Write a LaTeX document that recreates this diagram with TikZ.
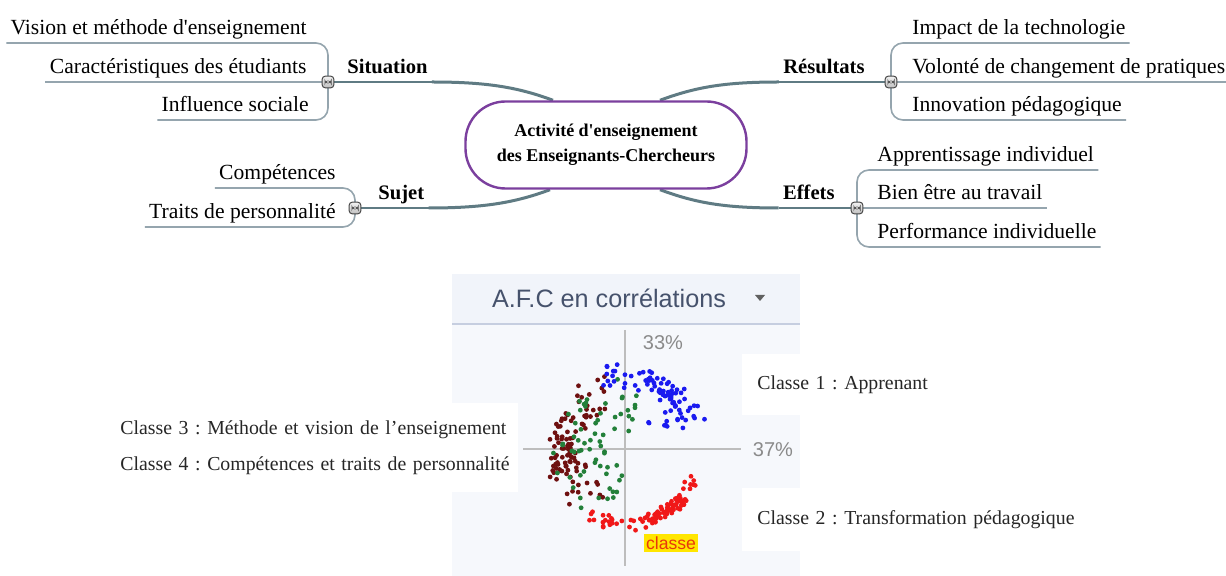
\documentclass[tikz,border=0pt]{standalone}
\usepackage{fontspec}
\setmainfont{Liberation Serif}
\newfontfamily\sansf{Liberation Sans}
\usetikzlibrary{calc}
\pgfdeclarelayer{bg}
\pgfdeclarelayer{back}
\pgfsetlayers{back,bg,main}
\definecolor{branchc}{HTML}{5F7B83}
\definecolor{kidc}{HTML}{95A5AE}
\definecolor{centc}{HTML}{7B3F9E}
\definecolor{panelbg}{HTML}{F6F8FC}
\definecolor{headbg}{HTML}{F1F4FA}
\definecolor{sepc}{HTML}{C6CEE0}
\definecolor{hdc}{HTML}{46526C}
\definecolor{axisc}{HTML}{BDBDBD}
\definecolor{pctc}{HTML}{8A8A8A}
\definecolor{dblue}{HTML}{1A1AF0}
\definecolor{dred}{HTML}{F01818}
\definecolor{dgreen}{HTML}{23803A}
\definecolor{dmaroon}{HTML}{6E1010}
\definecolor{hiy}{HTML}{FFE600}
\definecolor{clsred}{HTML}{E8380C}
\frenchspacing
\tikzset{
  kid/.style={font=\fontsize{10.8pt}{13pt}\selectfont, inner xsep=2pt, inner ysep=0pt, text height=7.5pt, text depth=4pt},
  topic/.style={kid, font=\fontsize{10.3pt}{13pt}\selectfont\bfseries},
  kidline/.style={draw=kidc, line width=0.8pt, rounded corners=6pt},
  branchthick/.style={draw=branchc, line width=1.5pt},
  branchthin/.style={draw=branchc, line width=0.9pt},
  btn/.style={draw=gray!55!black, line width=0.5pt, rounded corners=1.5pt, minimum size=5.8pt, inner sep=0pt,
    top color=gray!10, bottom color=gray!50,
    path picture={\filldraw[fill=gray!8, draw=gray!55!black, line width=0.3pt]
      ([xshift=-1.6pt,yshift=-0.55pt]path picture bounding box.center) rectangle
      ([xshift=1.6pt,yshift=0.55pt]path picture bounding box.center);}},
  cent/.style={draw=centc, line width=1.2pt, fill=white, rounded corners=20pt, minimum width=140.5pt,
    minimum height=43.5pt, align=center, font=\fontsize{9pt}{12.5pt}\selectfont\bfseries},
  pct/.style={font=\sansf\fontsize{10pt}{12pt}\selectfont, text=pctc, inner sep=1pt},
  clsbox/.style={fill=white, anchor=north west, align=left, inner ysep=0pt,
    font=\fontsize{9.9pt}{18pt}\selectfont\frenchspacing, text=black!85},
  dot/.style={radius=1.2pt}
}
\begin{document}
\begin{tikzpicture}[x=0.5pt,y=-0.5pt]
\useasboundingbox (0,0) rectangle (1226,576);
\begin{pgfonlayer}{back}
\fill[white] (0,0) rectangle (1226,576);
\end{pgfonlayer}

% ---------- mind map ----------
\node[cent] (cen) at (606,145) {Activité d\textquotesingle enseignement\\des Enseignants-Chercheurs};

% topics
\node[topic, anchor=south west] (sit) at (343,82) {Situation};
\node[topic, anchor=south east] (res) at (869,82) {Résultats};
\node[topic, anchor=south west] (suj) at (374,208) {Sujet};
\node[topic, anchor=south east] (eff) at (839,208) {Effets};

% buttons
\node[btn] (sitb) at (328,82) {};
\node[btn] (resb) at (891,82) {};
\node[btn] (sujb) at (355,208) {};
\node[btn] (effb) at (857,208) {};

% children
\node[kid, anchor=south east] (s1) at (311,43) {Vision et méthode d\textquotesingle enseignement};
\node[kid, anchor=south east] (s2) at (311,82) {Caractéristiques des étudiants};
\node[kid, anchor=south east] (s3) at (313,120) {Influence sociale};

\node[kid, anchor=south west] (r1) at (908,43) {Impact de la technologie};
\node[kid, anchor=south west] (r2) at (908,82) {Volonté de changement de pratiques};
\node[kid, anchor=south west] (r3) at (908,120) {Innovation pédagogique};

\node[kid, anchor=south east] (u1) at (340,188) {Compétences};
\node[kid, anchor=south east] (u2) at (340,227) {Traits de personnalité};

\node[kid, anchor=south west] (e1) at (873,170) {Apprentissage individuel};
\node[kid, anchor=south west] (e2) at (873,208) {Bien être au travail};
\node[kid, anchor=south west] (e3) at (873,247) {Performance individuelle};

\begin{pgfonlayer}{bg}
  % branches
  \draw[branchthick] ($(cen.north)+(-53,0)$) .. controls +(-35,-13) and +(55,0) .. (sit.south east);
  \draw[branchthin] (sit.south east) -- (sitb.center);
  \draw[branchthick] ($(cen.north)+(54,0)$) .. controls +(35,-13) and +(-55,0) .. (res.south west);
  \draw[branchthin] (res.south west) -- (resb.center);
  \draw[branchthick] ($(cen.south)+(-56,0)$) .. controls +(-35,13) and +(55,0) .. (suj.south east);
  \draw[branchthin] (suj.south east) -- (sujb.center);
  \draw[branchthick] ($(cen.south)+(54,0)$) .. controls +(35,13) and +(-55,0) .. (eff.south west);
  \draw[branchthin] (eff.south west) -- (effb.center);
  % child lines
  \draw[kidline] (sitb.center) |- (s1.south west);
  \draw[kidline] (sitb.center) -- (s2.south west);
  \draw[kidline] (sitb.center) |- (s3.south west);
  \draw[kidline] (resb.center) |- (r1.south east);
  \draw[kidline] (resb.center) -- (r2.south east);
  \draw[kidline] (resb.center) |- (r3.south east);
  \draw[kidline] (sujb.center) |- (u1.south west);
  \draw[kidline] (sujb.center) |- (u2.south west);
  \draw[kidline] (effb.center) |- (e1.south east);
  \draw[kidline] (effb.center) -- (e2.south east);
  \draw[kidline] (effb.center) |- (e3.south east);
\end{pgfonlayer}

% ---------- AFC panel ----------
\fill[panelbg] (452,274) rectangle (800,576);
\fill[headbg] (452,274) rectangle (800,324);
\draw[sepc, line width=0.8pt] (452,324) -- (800,324);
\node[font=\sansf\fontsize{12.6pt}{14pt}\selectfont, text=hdc] (hdr) at (609,298) {A.F.C en corrélations};
\fill[gray!75!black] (755,295) -- (765,295) -- (760,301) -- cycle;

\coordinate (org) at (625,449);
\draw[axisc, line width=0.6pt] (625,330) -- (625,566);
\draw[axisc, line width=0.6pt] (523,449) -- (741,449);
\node[pct] (p33) at (663,343) {33\%};
\node[pct] (p37) at (773,450) {37\%};

\pgfmathsetseed{11}
% maroon
\foreach \i in {1,...,60}{
  \pgfmathsetmacro\a{105+145*rnd}\pgfmathsetmacro\r{42+40*rnd}
  \fill[dmaroon] ({625+\r*cos(\a)},{449-\r*sin(\a)}) circle[dot];}
\foreach \i in {1,...,40}{
  \pgfmathsetmacro\a{160+45*rnd}\pgfmathsetmacro\r{52+24*rnd}
  \fill[dmaroon] ({625+\r*cos(\a)},{449-\r*sin(\a)}) circle[dot];}
% green
\foreach \i in {1,...,65}{
  \pgfmathsetmacro\a{75+190*rnd}\pgfmathsetmacro\r{18+58*rnd}
  \fill[dgreen] ({625+\r*cos(\a)},{449-\r*sin(\a)}) circle[dot];}
% blue
\foreach \i in {1,...,50}{
  \pgfmathsetmacro\a{20+90*rnd}\pgfmathsetmacro\r{60+25*rnd}
  \fill[dblue] ({625+\r*cos(\a)},{449-\r*sin(\a)}) circle[dot];}
\foreach \i in {1,...,30}{
  \pgfmathsetmacro\a{40+25*rnd}\pgfmathsetmacro\r{66+14*rnd}
  \fill[dblue] ({625+\r*cos(\a)},{449-\r*sin(\a)}) circle[dot];}
\foreach \i in {1,...,8}{
  \pgfmathsetmacro\a{15+60*rnd}\pgfmathsetmacro\r{35+25*rnd}
  \fill[dblue] ({625+\r*cos(\a)},{449-\r*sin(\a)}) circle[dot];}
% red
\foreach \i in {1,...,55}{
  \pgfmathsetmacro\a{-120+100*rnd}\pgfmathsetmacro\r{68+14*rnd}
  \fill[dred] ({625+\r*cos(\a)},{449-\r*sin(\a)}) circle[dot];}
\foreach \i in {1,...,35}{
  \pgfmathsetmacro\a{-72+32*rnd}\pgfmathsetmacro\r{70+10*rnd}
  \fill[dred] ({625+\r*cos(\a)},{449-\r*sin(\a)}) circle[dot];}

\node[fill=hiy, text=clsred, font=\sansf\fontsize{8.8pt}{10pt}\selectfont, inner xsep=1pt, inner ysep=1.5pt] (cls) at (671,543) {classe};

% class boxes
\node[clsbox, text width=84pt, inner xsep=7.5pt, minimum height=30.5pt] (c1) at (742,354) {\mbox{Classe 1 : Apprenant}};
\node[clsbox, text width=159pt, inner xsep=7.5pt, minimum height=31.5pt] (c2) at (742,488) {\mbox{Classe 2 : Transformation pédagogique}};
\node[clsbox, text width=192.5pt, inner xsep=6.5pt, minimum height=44.5pt] (c34) at (107,403) {\mbox{Classe 3 : Méthode et vision de l’enseignement}\\\mbox{Classe 4 : Compétences et traits de personnalité}};
\end{tikzpicture}
\end{document}
